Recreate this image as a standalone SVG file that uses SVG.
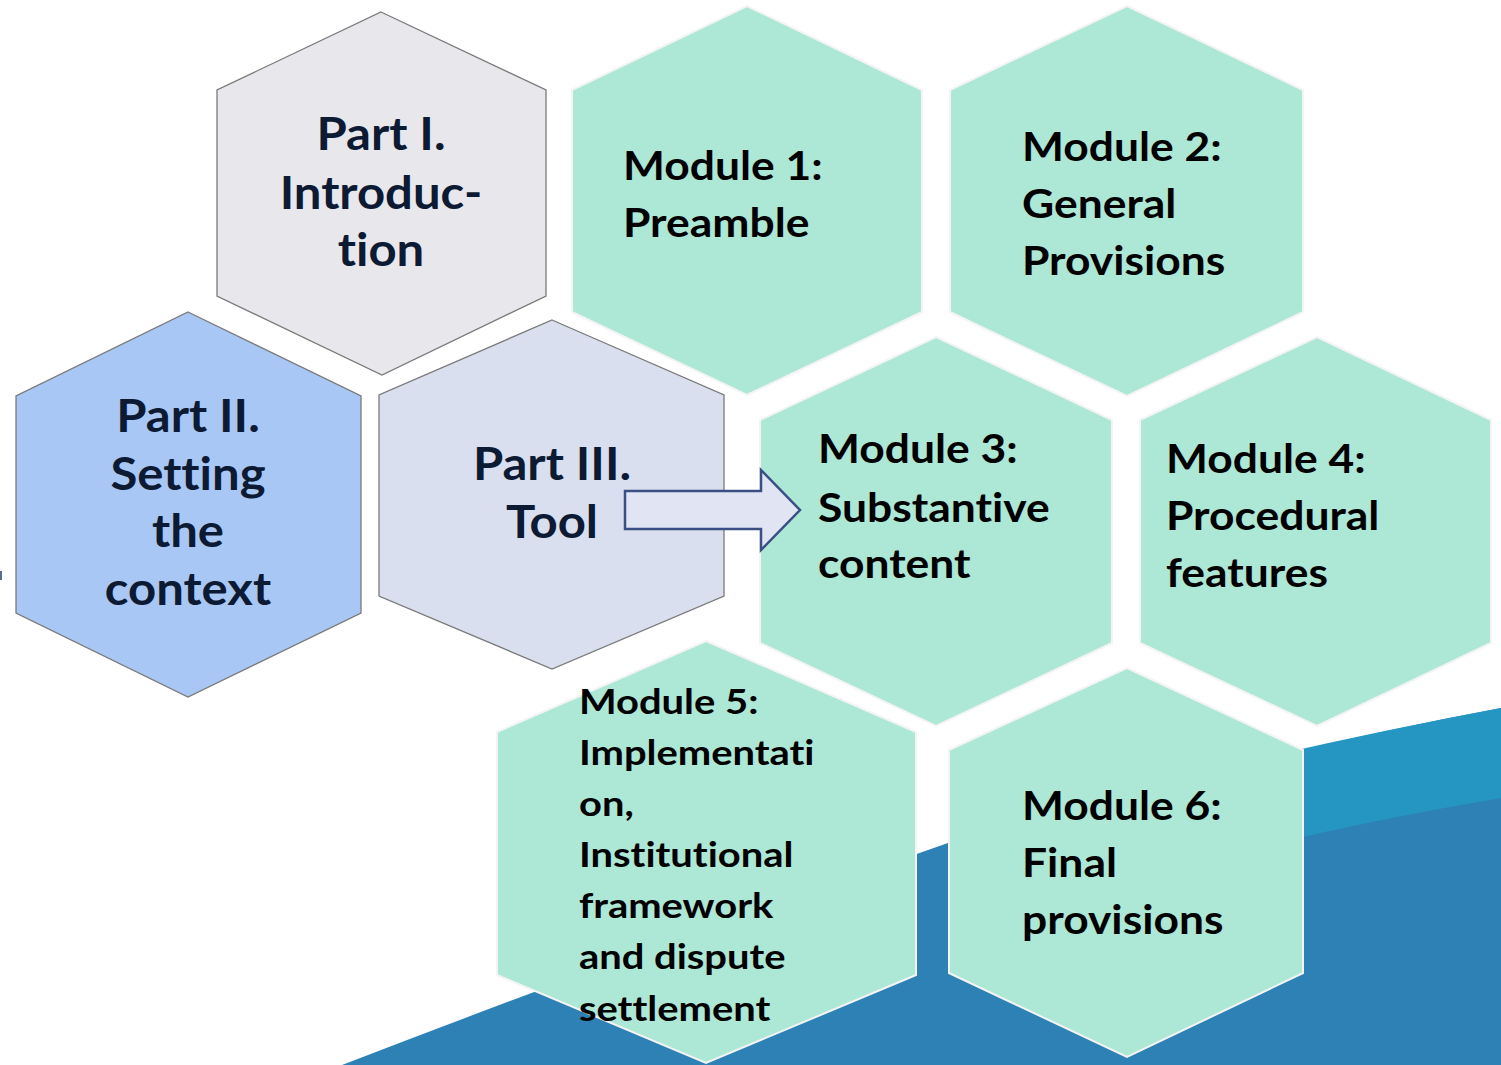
<svg xmlns="http://www.w3.org/2000/svg" width="1501" height="1065" viewBox="0 0 1501 1065">
<style>
.part{stroke:#7a7a7a;stroke-width:1.3}
.mod{fill:#ade7d5;stroke:#f4f4f4;stroke-width:2}
text{font-family:Lato,"Open Sans",sans-serif;font-weight:700;font-variant-ligatures:none}
.pt{font-size:45px;fill:#0c1a33;text-anchor:middle}
.mt{font-size:40px;fill:#000}
.m5{font-size:35px;fill:#000}
</style>
<rect width="1501" height="1065" fill="#fff"/>
<g id="background">
<path d="M342,1065 Q640,950 948,843 Q1250,755 1501,708 L1501,1065 Z" fill="#2e81b4"/>
<path d="M1150,785 Q1320,742 1501,708 L1501,798 Q1400,815 1302,837 L1150,860 Z" fill="#2596c2"/>
<rect x="0" y="571" width="2" height="9" fill="#5a6c90"/>
</g>
<g id="part1">
<polygon class="part" fill="#e8e7ec" points="381,12 546,90 546,296 382,375 217,296 217,90"/>
<g transform="matrix(1.09 0 0 1 -34.29 0)">
<text class="pt" x="381" y="150">Part I.</text>
<text class="pt" x="381" y="209">Introduc-</text>
<text class="pt" x="381" y="266">tion</text>
</g>
</g>
<g id="part2">
<polygon class="part" fill="#a9c7f4" points="188,312 361,396 361,613 188,697 16,613 16,396"/>
<g transform="matrix(1.09 0 0 1 -16.92 0)">
<text class="pt" x="188" y="432">Part II.</text>
<text class="pt" x="188" y="490">Setting</text>
<text class="pt" x="188" y="547">the</text>
<text class="pt" x="188" y="605">context</text>
</g>
</g>
<g id="part3">
<polygon class="part" fill="#d9dfee" points="552,320 724,395 724,596 552,669 379,596 379,395"/>
<g transform="matrix(1.09 0 0 1 -49.68 0)">
<text class="pt" x="552" y="480">Part III.</text>
<text class="pt" x="552" y="538">Tool</text>
</g>
</g>
<g id="module1">
<polygon class="mod" points="747,6 922,90 922,312 747,395 572,312 572,90"/>
<g transform="matrix(1.11 0 0 1 -68.53 0)">
<text class="mt" x="623" y="180">Module 1:</text>
<text class="mt" x="623" y="237">Preamble</text>
</g>
</g>
<g id="module2">
<polygon class="mod" points="1127,6 1303,90 1303,312 1127,396 950,312 950,90"/>
<g transform="matrix(1.11 0 0 1 -112.42 0)">
<text class="mt" x="1022" y="161">Module 2:</text>
<text class="mt" x="1022" y="218">General</text>
<text class="mt" x="1022" y="275">Provisions</text>
</g>
</g>
<g id="module3">
<polygon class="mod" points="936,337 1112,420 1112,643 936,726 760,643 760,420"/>
<g transform="matrix(1.11 0 0 1 -89.98 0)">
<text class="mt" x="818" y="463">Module 3:</text>
<text class="mt" x="818" y="522">Substantive</text>
<text class="mt" x="818" y="578">content</text>
</g>
</g>
<g id="module4">
<polygon class="mod" points="1317,337 1491,420 1491,643 1317,726 1140,643 1140,420"/>
<g transform="matrix(1.11 0 0 1 -128.26 0)">
<text class="mt" x="1166" y="473">Module 4:</text>
<text class="mt" x="1166" y="530">Procedural</text>
<text class="mt" x="1166" y="587">features</text>
</g>
</g>
<g id="module5">
<polygon class="mod" points="706,641 916,732 916,975 706,1063 497,975 497,732"/>
<g transform="matrix(1.14 0 0 1 -81.06 0)">
<text class="m5" x="579" y="714">Module 5:</text>
<text class="m5" x="579" y="765">Implementati</text>
<text class="m5" x="579" y="816">on,</text>
<text class="m5" x="579" y="867">Institutional</text>
<text class="m5" x="579" y="918">framework</text>
<text class="m5" x="579" y="969">and dispute</text>
<text class="m5" x="579" y="1021">settlement</text>
</g>
</g>
<g id="module6">
<polygon class="mod" points="1127,668 1303,750 1303,973 1127,1057 949,973 949,750"/>
<g transform="matrix(1.11 0 0 1 -112.42 0)">
<text class="mt" x="1022" y="820">Module 6:</text>
<text class="mt" x="1022" y="877">Final</text>
<text class="mt" x="1022" y="934">provisions</text>
</g>
</g>
<g id="connectors">
<polygon points="625,491 761,491 761,470 800,510 761,550 761,529 625,529" fill="#e1e4f2" stroke="#3b4f85" stroke-width="2.5" stroke-linejoin="miter"/>
</g>
</svg>
